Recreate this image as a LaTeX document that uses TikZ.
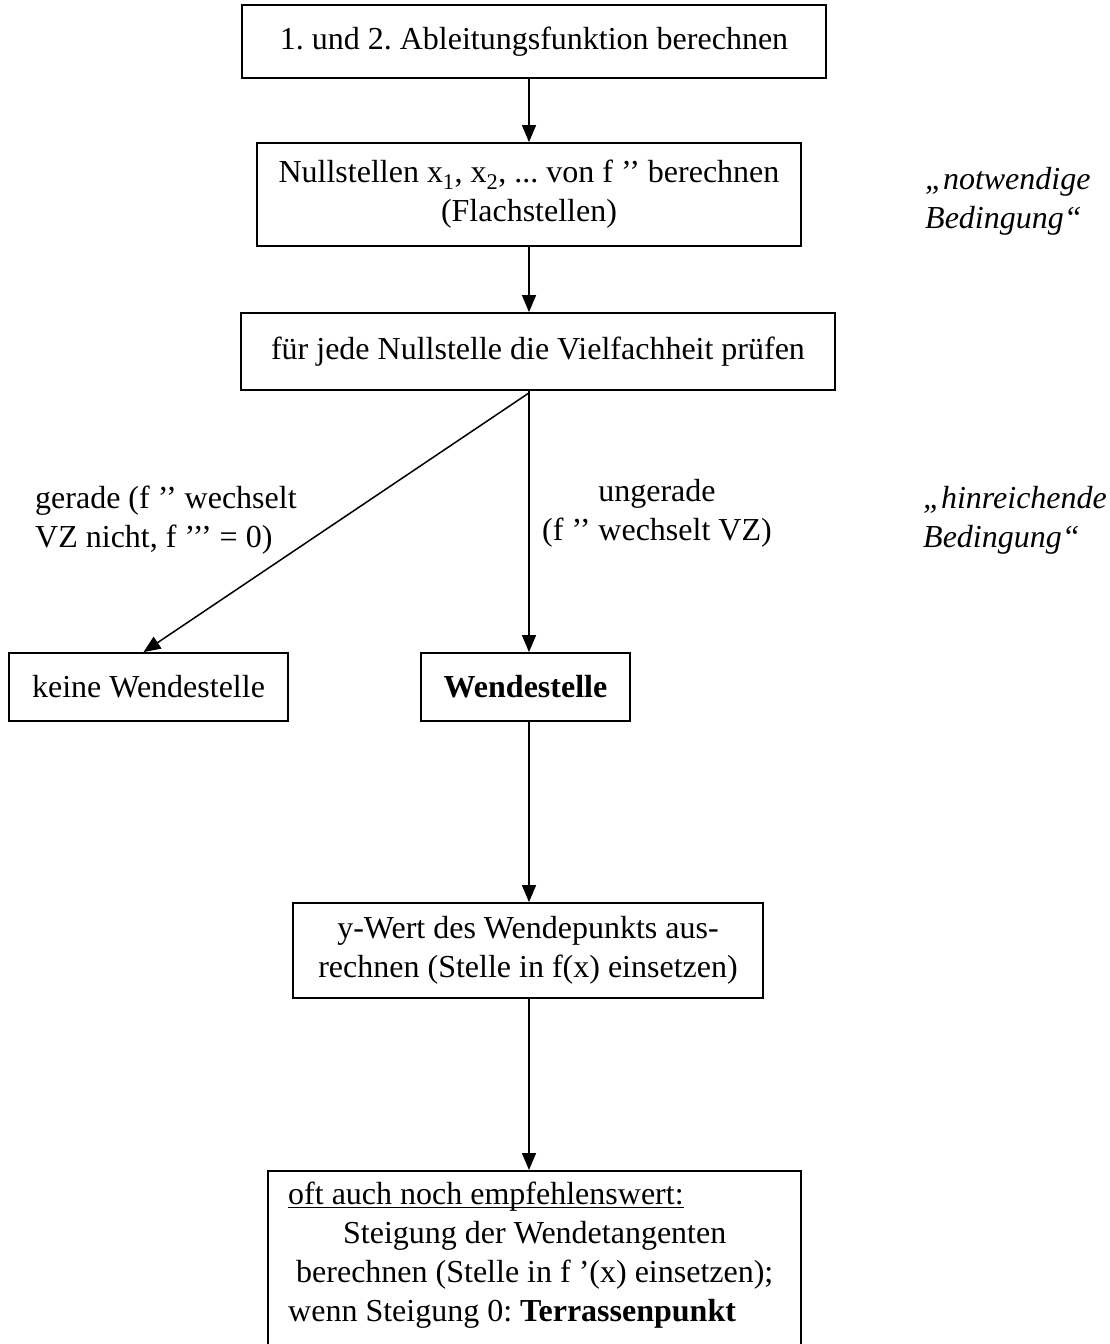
\documentclass[tikz,border=0pt]{standalone}
\usepackage{fontspec}
\setmainfont{Liberation Serif}
\usetikzlibrary{arrows.meta,calc}
% underline drawn close to the baseline, as in word processors
\newcommand\lowul[1]{\setbox0\hbox{#1}\rlap{\rule[-3.5pt]{\wd0}{1.3pt}}\box0}
\begin{document}
\frenchspacing
\begin{tikzpicture}[x=1pt,y=-1pt,
  every node/.style={font=\fontsize{32}{39}\selectfont\frenchspacing},
  box/.style={draw, line width=1.8pt, inner sep=0pt, align=center},
  note/.style={align=left, inner sep=0pt, font=\fontsize{32}{39}\selectfont\itshape},
  lbl/.style={inner sep=0pt},
  flow/.style={line width=1.5pt, -{Triangle[length=17pt,width=14pt]}}
]
\useasboundingbox (0,0) rectangle (1110,1344);
\fill[white] (0,0) rectangle (1110,1344);

% common vertical axis of the flow
\coordinate (spine) at (529,0);

% process boxes
\node[box, minimum width=584pt, minimum height=73pt] (b1) at (534,41.5)
  {1. und 2. Ableitungsfunktion berechnen};
\node[box, minimum width=544pt, minimum height=103pt] (b2) at (529,194.5)
  {Nullstellen x\textsubscript{1}, x\textsubscript{2}, ... von f ’’ berechnen\\(Flachstellen)};
\node[box, minimum width=594pt, minimum height=77pt] (b3) at (538,351.5)
  {für jede Nullstelle die Vielfachheit prüfen};
\node[box, minimum width=279pt, minimum height=68pt] (b4) at (148.5,687)
  {keine Wendestelle};
\node[box, minimum width=209pt, minimum height=68pt] (b5) at (525.5,687)
  {\textbf{Wendestelle}};
\node[box, minimum width=470pt, minimum height=95pt] (b6) at (528,950.5)
  {y-Wert des Wendepunkts aus-\\rechnen (Stelle in f(x) einsetzen)};
\node[box, minimum width=533pt, minimum height=220pt, anchor=north west] (b7) at (267,1170) {};
\node[lbl, align=left, anchor=north west] (b7t) at (288,1182)
  {\lowul{oft auch noch empfehlenswert:}\\
   \hspace*{55pt}Steigung der Wendetangenten\\
   \hspace*{8pt}berechnen (Stelle in f ’(x) einsetzen);\\
   wenn Steigung 0: \textbf{Terrassenpunkt}};

% side notes
\node[note, anchor=west] (notw) at (925,201) {„notwendige\\Bedingung“};
\node[note, anchor=west] (hinr) at (923,520) {„hinreichende\\Bedingung“};

% branch labels
\node[lbl, align=left, anchor=west] (gerade) at (35,520)
  {gerade (f ’’ wechselt\\VZ nicht, f ’’’ = 0)};
\node[lbl, align=center] (ungerade) at (657,513)
  {ungerade\\(f ’’ wechselt VZ)};

% connectors
\draw[flow] (spine |- b1.south) -- (spine |- b2.north);
\draw[flow] (spine |- b2.south) -- (spine |- b3.north);
\draw[flow] ([yshift=-2pt]spine |- b3.south) -- ([xshift=-5pt]b4.north);
\draw[flow] (spine |- b3.south) -- (spine |- b5.north);
\draw[flow] (spine |- b5.south) -- (spine |- b6.north);
\draw[flow] (spine |- b6.south) -- (spine |- b7.north);
\end{tikzpicture}
\end{document}
